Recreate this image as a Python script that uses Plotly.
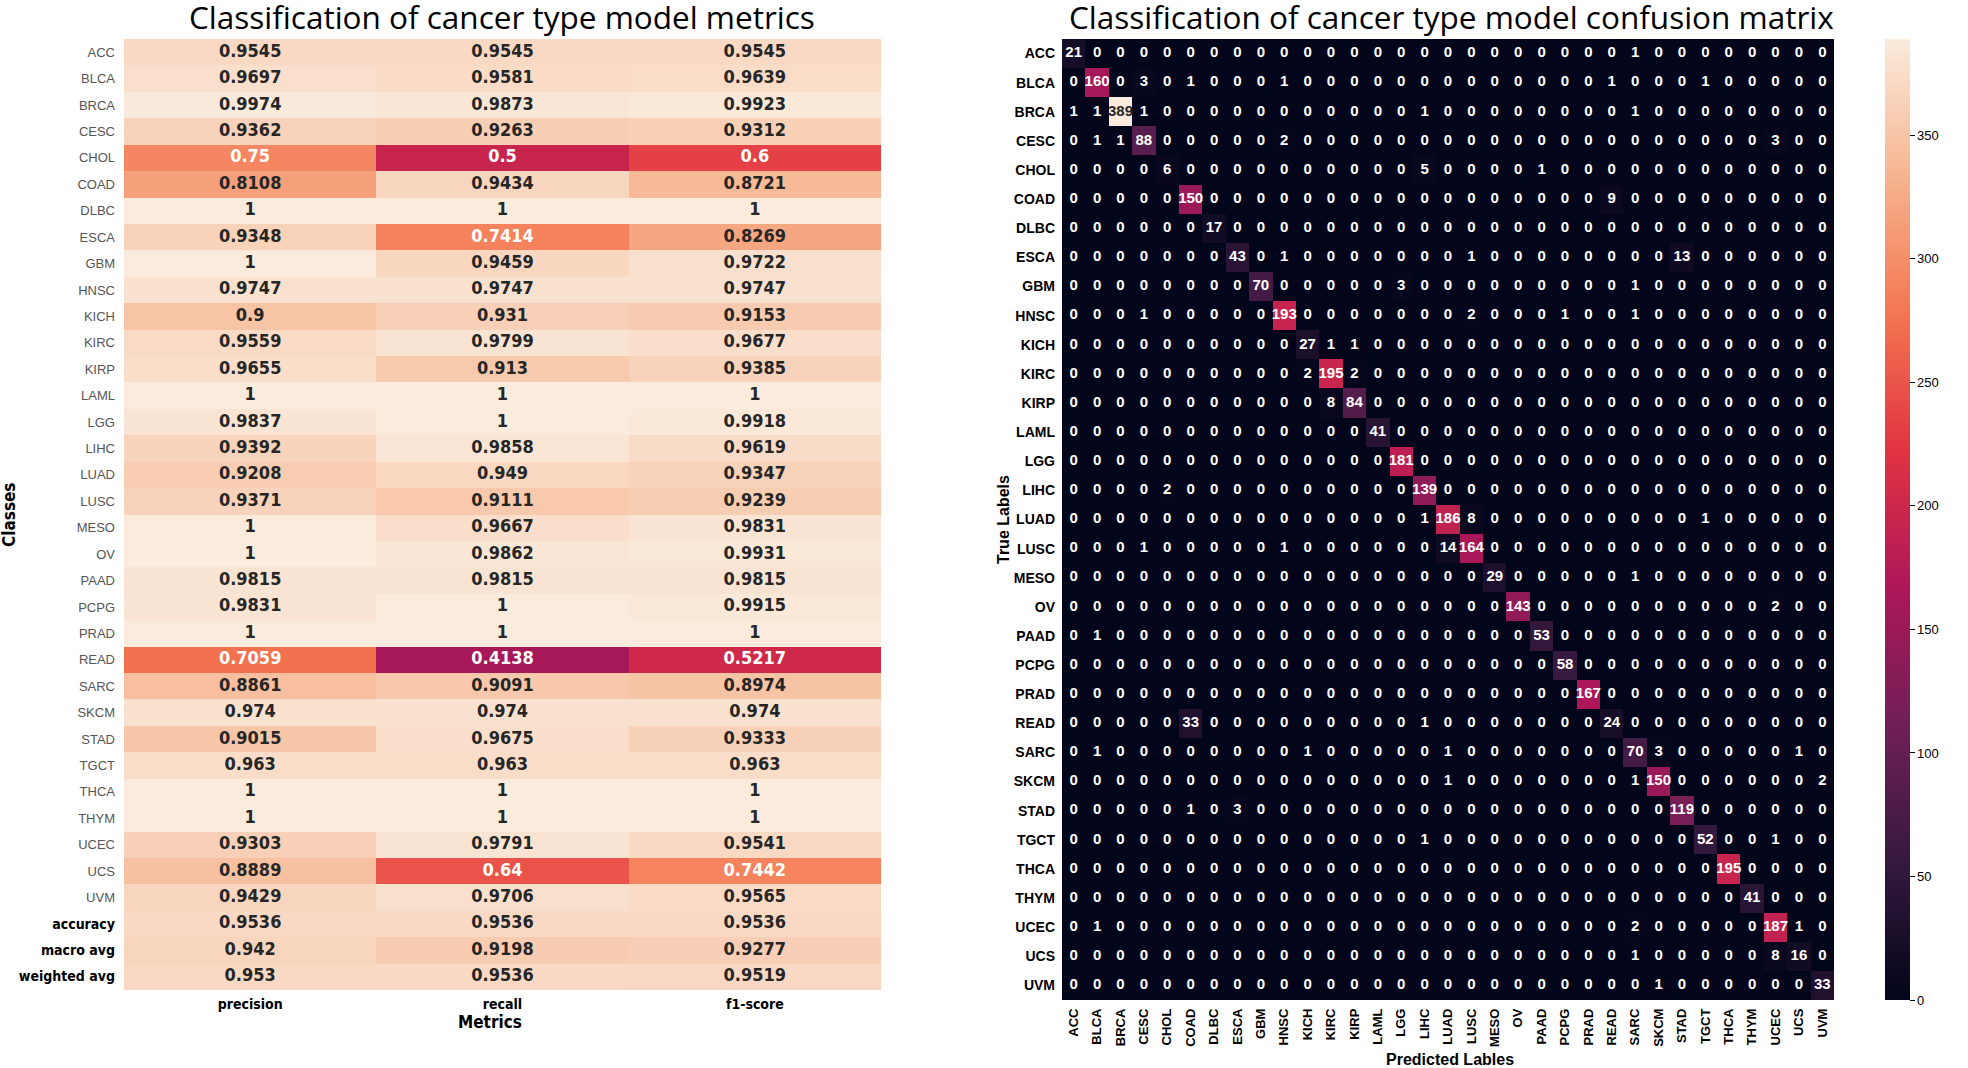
import numpy as np
import plotly.graph_objects as go

# ---------------- data ----------------
report_rows = ["ACC", "BLCA", "BRCA", "CESC", "CHOL", "COAD", "DLBC", "ESCA", "GBM", "HNSC",
               "KICH", "KIRC", "KIRP", "LAML", "LGG", "LIHC", "LUAD", "LUSC", "MESO", "OV",
               "PAAD", "PCPG", "PRAD", "READ", "SARC", "SKCM", "STAD", "TGCT", "THCA", "THYM",
               "UCEC", "UCS", "UVM", "accuracy", "macro avg", "weighted avg"]
metrics = ["precision", "recall", "f1-score"]

precision = [0.9545, 0.9697, 0.9974, 0.9362, 0.75, 0.8108, 1, 0.9348, 1, 0.9747,
             0.9, 0.9559, 0.9655, 1, 0.9837, 0.9392, 0.9208, 0.9371, 1, 1,
             0.9815, 0.9831, 1, 0.7059, 0.8861, 0.974, 0.9015, 0.963, 1, 1,
             0.9303, 0.8889, 0.9429, 0.9536, 0.942, 0.953]
recall = [0.9545, 0.9581, 0.9873, 0.9263, 0.5, 0.9434, 1, 0.7414, 0.9459, 0.9747,
          0.931, 0.9799, 0.913, 1, 1, 0.9858, 0.949, 0.9111, 0.9667, 0.9862,
          0.9815, 1, 1, 0.4138, 0.9091, 0.974, 0.9675, 0.963, 1, 1,
          0.9791, 0.64, 0.9706, 0.9536, 0.9198, 0.9536]
f1_score = [0.9545, 0.9639, 0.9923, 0.9312, 0.6, 0.8721, 1, 0.8269, 0.9722, 0.9747,
            0.9153, 0.9677, 0.9385, 1, 0.9918, 0.9619, 0.9347, 0.9239, 0.9831, 0.9931,
            0.9815, 0.9915, 1, 0.5217, 0.8974, 0.974, 0.9333, 0.963, 1, 1,
            0.9541, 0.7442, 0.9565, 0.9536, 0.9277, 0.9519]

cm_labels = ["ACC", "BLCA", "BRCA", "CESC", "CHOL", "COAD", "DLBC", "ESCA", "GBM", "HNSC",
             "KICH", "KIRC", "KIRP", "LAML", "LGG", "LIHC", "LUAD", "LUSC", "MESO", "OV",
             "PAAD", "PCPG", "PRAD", "READ", "SARC", "SKCM", "STAD", "TGCT", "THCA", "THYM",
             "UCEC", "UCS", "UVM"]

confusion = [
    [21,0,0,0,0,0,0,0,0,0,0,0,0,0,0,0,0,0,0,0,0,0,0,0,1,0,0,0,0,0,0,0,0],
    [0,160,0,3,0,1,0,0,0,1,0,0,0,0,0,0,0,0,0,0,0,0,0,1,0,0,0,1,0,0,0,0,0],
    [1,1,389,1,0,0,0,0,0,0,0,0,0,0,0,1,0,0,0,0,0,0,0,0,1,0,0,0,0,0,0,0,0],
    [0,1,1,88,0,0,0,0,0,2,0,0,0,0,0,0,0,0,0,0,0,0,0,0,0,0,0,0,0,0,3,0,0],
    [0,0,0,0,6,0,0,0,0,0,0,0,0,0,0,5,0,0,0,0,1,0,0,0,0,0,0,0,0,0,0,0,0],
    [0,0,0,0,0,150,0,0,0,0,0,0,0,0,0,0,0,0,0,0,0,0,0,9,0,0,0,0,0,0,0,0,0],
    [0,0,0,0,0,0,17,0,0,0,0,0,0,0,0,0,0,0,0,0,0,0,0,0,0,0,0,0,0,0,0,0,0],
    [0,0,0,0,0,0,0,43,0,1,0,0,0,0,0,0,0,1,0,0,0,0,0,0,0,0,13,0,0,0,0,0,0],
    [0,0,0,0,0,0,0,0,70,0,0,0,0,0,3,0,0,0,0,0,0,0,0,0,1,0,0,0,0,0,0,0,0],
    [0,0,0,1,0,0,0,0,0,193,0,0,0,0,0,0,0,2,0,0,0,1,0,0,1,0,0,0,0,0,0,0,0],
    [0,0,0,0,0,0,0,0,0,0,27,1,1,0,0,0,0,0,0,0,0,0,0,0,0,0,0,0,0,0,0,0,0],
    [0,0,0,0,0,0,0,0,0,0,2,195,2,0,0,0,0,0,0,0,0,0,0,0,0,0,0,0,0,0,0,0,0],
    [0,0,0,0,0,0,0,0,0,0,0,8,84,0,0,0,0,0,0,0,0,0,0,0,0,0,0,0,0,0,0,0,0],
    [0,0,0,0,0,0,0,0,0,0,0,0,0,41,0,0,0,0,0,0,0,0,0,0,0,0,0,0,0,0,0,0,0],
    [0,0,0,0,0,0,0,0,0,0,0,0,0,0,181,0,0,0,0,0,0,0,0,0,0,0,0,0,0,0,0,0,0],
    [0,0,0,0,2,0,0,0,0,0,0,0,0,0,0,139,0,0,0,0,0,0,0,0,0,0,0,0,0,0,0,0,0],
    [0,0,0,0,0,0,0,0,0,0,0,0,0,0,0,1,186,8,0,0,0,0,0,0,0,0,0,1,0,0,0,0,0],
    [0,0,0,1,0,0,0,0,0,1,0,0,0,0,0,0,14,164,0,0,0,0,0,0,0,0,0,0,0,0,0,0,0],
    [0,0,0,0,0,0,0,0,0,0,0,0,0,0,0,0,0,0,29,0,0,0,0,0,1,0,0,0,0,0,0,0,0],
    [0,0,0,0,0,0,0,0,0,0,0,0,0,0,0,0,0,0,0,143,0,0,0,0,0,0,0,0,0,0,2,0,0],
    [0,1,0,0,0,0,0,0,0,0,0,0,0,0,0,0,0,0,0,0,53,0,0,0,0,0,0,0,0,0,0,0,0],
    [0,0,0,0,0,0,0,0,0,0,0,0,0,0,0,0,0,0,0,0,0,58,0,0,0,0,0,0,0,0,0,0,0],
    [0,0,0,0,0,0,0,0,0,0,0,0,0,0,0,0,0,0,0,0,0,0,167,0,0,0,0,0,0,0,0,0,0],
    [0,0,0,0,0,33,0,0,0,0,0,0,0,0,0,1,0,0,0,0,0,0,0,24,0,0,0,0,0,0,0,0,0],
    [0,1,0,0,0,0,0,0,0,0,1,0,0,0,0,0,1,0,0,0,0,0,0,0,70,3,0,0,0,0,0,1,0],
    [0,0,0,0,0,0,0,0,0,0,0,0,0,0,0,0,1,0,0,0,0,0,0,0,1,150,0,0,0,0,0,0,2],
    [0,0,0,0,0,1,0,3,0,0,0,0,0,0,0,0,0,0,0,0,0,0,0,0,0,0,119,0,0,0,0,0,0],
    [0,0,0,0,0,0,0,0,0,0,0,0,0,0,0,1,0,0,0,0,0,0,0,0,0,0,0,52,0,0,1,0,0],
    [0,0,0,0,0,0,0,0,0,0,0,0,0,0,0,0,0,0,0,0,0,0,0,0,0,0,0,0,195,0,0,0,0],
    [0,0,0,0,0,0,0,0,0,0,0,0,0,0,0,0,0,0,0,0,0,0,0,0,0,0,0,0,0,41,0,0,0],
    [0,1,0,0,0,0,0,0,0,0,0,0,0,0,0,0,0,0,0,0,0,0,0,0,2,0,0,0,0,0,187,1,0],
    [0,0,0,0,0,0,0,0,0,0,0,0,0,0,0,0,0,0,0,0,0,0,0,0,1,0,0,0,0,0,8,16,0],
    [0,0,0,0,0,0,0,0,0,0,0,0,0,0,0,0,0,0,0,0,0,0,0,0,0,1,0,0,0,0,0,0,33],
]
cbar_ticks = [0, 50, 100, 150, 200, 250, 300, 350]

# ---------------- style helpers ----------------
W, H = 1968, 1068
rocket_pos = [0, 1/7, 2/7, 3/7, 4/7, 5/7, 6/7, 1]
rocket_hex = ["#03051a", "#35193e", "#701f57", "#ad1759", "#e13342", "#f37651", "#f6b48f", "#faebdd"]
rocket = [[p, c] for p, c in zip(rocket_pos, rocket_hex)]
rocket_rgb = np.array([[int(h[i:i + 2], 16) for i in (1, 3, 5)] for h in rocket_hex]) / 255.0


def text_color(v, vmin, vmax):
    t = (v - vmin) / (vmax - vmin)
    rgb = [np.interp(t, rocket_pos, rocket_rgb[:, k]) for k in range(3)]
    lin = [c / 12.92 if c <= 0.03928 else ((c + 0.055) / 1.055) ** 2.4 for c in rgb]
    lum = 0.2126 * lin[0] + 0.7152 * lin[1] + 0.0722 * lin[2]
    return "#262626" if lum > 0.408 else "#ffffff"


def px(x):
    return x / W


def py(y):
    return 1 - y / H


COND = "DejaVu Sans Condensed, DejaVu Sans, sans-serif"
ARIAL = "Liberation Sans, Arial, sans-serif"

fig = go.Figure()

# ---------------- left heatmap ----------------
z_left = np.array([precision, recall, f1_score]).T
fig.add_trace(go.Heatmap(
    x=metrics, y=report_rows, z=z_left, colorscale=rocket, zmin=0, zmax=1,
    showscale=False, xaxis="x", yaxis="y", hoverinfo="skip", xgap=0, ygap=0))

tx, ty, tt, tc = [], [], [], []
for i, r in enumerate(report_rows):
    for j, m in enumerate(metrics):
        v = z_left[i, j]
        tx.append(m); ty.append(r); tt.append(f"{v:.4g}"); tc.append(text_color(v, 0, 1))
fig.add_trace(go.Scatter(
    x=tx, y=ty, text=tt, mode="text", xaxis="x", yaxis="y", hoverinfo="skip",
    textfont=dict(family=COND, size=18, color=tc, weight="bold"), showlegend=False))

# ---------------- confusion matrix ----------------
cm = np.array(confusion)
fig.add_trace(go.Heatmap(
    x=cm_labels, y=cm_labels, z=cm, colorscale=rocket, zmin=0, zmax=int(cm.max()),
    xaxis="x2", yaxis="y2", hoverinfo="skip",
    colorbar=dict(x=px(1885), xanchor="left", xref="paper", xpad=0, ypad=0,
                  y=py((39 + 1000) / 2), yanchor="middle", len=961 / H, lenmode="fraction",
                  thickness=25, thicknessmode="pixels", outlinewidth=0,
                  tickmode="array", tickvals=cbar_ticks, ticks="outside", ticklen=5,
                  tickwidth=1, tickcolor="#000",
                  tickfont=dict(family=ARIAL, size=13, color="#000"))))

cx, cy, ct, cc = [], [], [], []
for i, r in enumerate(cm_labels):
    for j, c in enumerate(cm_labels):
        v = int(cm[i, j])
        cx.append(c); cy.append(r); ct.append(str(v)); cc.append(text_color(v, 0, int(cm.max())))
fig.add_trace(go.Scatter(
    x=cx, y=cy, text=ct, mode="text", xaxis="x2", yaxis="y2", hoverinfo="skip",
    textfont=dict(family=ARIAL, size=15, color=cc, weight="bold"), showlegend=False))

# ---------------- tick labels ----------------
summary = {"accuracy", "macro avg", "weighted avg"}
left_ticktext = [
    (f'<span style="font-family:DejaVu Sans Condensed, DejaVu Sans;color:#000000;font-size:14px"><b>{r}</b></span>'
     if r in summary else r) for r in report_rows]

nL, nM, nC = len(report_rows), len(metrics), len(cm_labels)
fig.update_layout(
    width=W, height=H, margin=dict(l=0, r=0, t=0, b=0, autoexpand=False),
    paper_bgcolor="white", plot_bgcolor="white", showlegend=False,
    xaxis=dict(domain=[px(124), px(881)], anchor="y", showgrid=False, zeroline=False,
               range=[-0.5, nM - 0.5], autorange=False, automargin=False,
               ticks="", showline=False, tickmode="array", tickvals=metrics,
               ticktext=[f"<b>{m}</b>" for m in metrics], ticklabelstandoff=4,
               tickfont=dict(family=COND, size=14, color="#000")),
    yaxis=dict(domain=[py(990), py(39)], anchor="x", range=[nL - 0.5, -0.5], autorange=False,
               automargin=False,
               showgrid=False, zeroline=False, ticks="", showline=False, tickmode="array",
               tickvals=report_rows, ticktext=left_ticktext, ticklabelstandoff=8,
               tickfont=dict(family=ARIAL, size=13, color="#555555")),
    xaxis2=dict(domain=[px(1062), px(1834)], anchor="y2", showgrid=False, zeroline=False,
                range=[-0.5, nC - 0.5], autorange=False, automargin=False,
                ticks="", showline=False, tickangle=-90, tickmode="array", tickvals=cm_labels,
                ticktext=[f"<b>{c}</b>" for c in cm_labels], ticklabelstandoff=5,
                tickfont=dict(family=ARIAL, size=13, color="#000")),
    yaxis2=dict(domain=[py(1000), py(39)], anchor="x2", range=[nC - 0.5, -0.5], autorange=False,
                automargin=False,
                showgrid=False, zeroline=False, ticks="", showline=False, tickmode="array",
                tickvals=cm_labels, ticktext=[f"<b>{c}</b>" for c in cm_labels],
                ticklabelstandoff=6, tickfont=dict(family=ARIAL, size=14, color="#000")),
)

# ---------------- titles ----------------
anns = [
    dict(text="Classification of cancer type model metrics", x=px(502), y=py(17),
         font=dict(family="Open Sans, sans-serif", size=31.5, color="#000")),
    dict(text="Classification of cancer type model confusion matrix", x=px(1451), y=py(17),
         font=dict(family="Open Sans, sans-serif", size=31.5, color="#000")),
    dict(text="<b>Metrics</b>", x=px(490), y=py(1022), font=dict(family=COND, size=17, color="#000")),
    dict(text="<b>Classes</b>", x=px(9), y=py(515), textangle=-90,
         font=dict(family=COND, size=17, color="#000")),
    dict(text="<b>True Labels</b>", x=px(1003), y=py(520), textangle=-90,
         font=dict(family=ARIAL, size=16, color="#000")),
    dict(text="<b>Predicted Lables</b>", x=px(1450), y=py(1059),
         font=dict(family=ARIAL, size=16, color="#000")),
]
for a in anns:
    fig.add_annotation(xref="paper", yref="paper", showarrow=False, xanchor="center",
                       yanchor="middle", **a)

fig.write_html("out.html", config={"displayModeBar": False},
               post_script="document.body.style.margin='0';document.body.style.padding='0';"
                           "document.body.style.overflow='hidden';")
